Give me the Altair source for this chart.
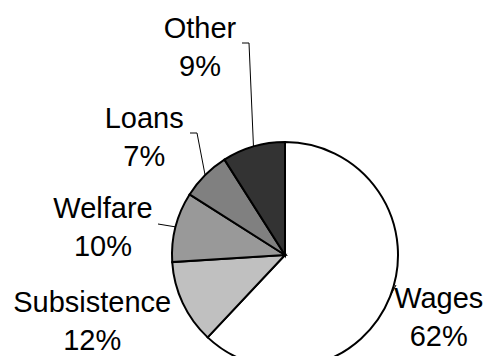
import math
import altair as alt
import pandas as pd

# ---- data ----
names = ["Wages", "Subsistence", "Welfare", "Loans", "Other"]
values = [62, 12, 10, 7, 9]

# ---- style / layout ----
colors = ["#ffffff", "#c0c0c0", "#999999", "#808080", "#333333"]
CX, CY, R = 277, 247, 113          # pie centre (chart coords) and radius
FONT_SIZE, LINE_H = 29, 38
label_radius = [166, 204, 184, 183, 224]
label_nudge_deg = [0.55, 6.1, -6.0, -5.3, -6.1]
# leader-line label-side points (chart coords), pie-edge end computed from the slice angle
leader_pts = {
    "Wages": [(388, 277)],
    "Welfare": [(150, 216)],
    "Loans": [(189, 125), (182, 125)],
    "Other": [(241, 35), (234, 35)],
}

total = sum(values)
rows, lab, lead = [], [], []
cum = 0
for i, (n, v) in enumerate(zip(names, values)):
    mid = (cum + v / 2) / total * 2 * math.pi
    cum += v
    rows.append({"name": n, "value": v, "idx": i})
    lab.append({
        "name": n,
        "label": f"{n}\n{v}%",
        "theta": mid + math.radians(label_nudge_deg[i]),
        "r": label_radius[i],
    })
    if n in leader_pts:
        ex = CX + R * math.sin(mid)
        ey = CY - R * math.cos(mid)
        pts = [(ex, ey)] + leader_pts[n]
        for k, (px, py) in enumerate(pts):
            lead.append({"name": n, "o": k, "x": px, "y": py})

df = pd.DataFrame(rows)
dl = pd.DataFrame(lab)
dlead = pd.DataFrame(lead)

pie = alt.Chart(df).mark_arc(outerRadius=R, stroke="black", strokeWidth=2).encode(
    theta=alt.Theta("value:Q", stack=True),
    color=alt.Color("name:N", scale=alt.Scale(domain=names, range=colors), legend=None),
    order=alt.Order("idx:Q"),
    x=alt.value(CX),
    y=alt.value(CY),
)

labels = alt.Chart(dl).mark_text(
    font="Liberation Sans", fontSize=FONT_SIZE, lineBreak="\n", lineHeight=LINE_H,
    align="center", baseline="middle", color="black", dy=-LINE_H / 2,
).encode(
    x=alt.value(CX),
    y=alt.value(CY),
    theta=alt.Theta("theta:Q", scale=None),
    radius=alt.Radius("r:Q", scale=None),
    text="label:N",
)

leaders = alt.Chart(dlead).mark_line(color="black", strokeWidth=1).encode(
    x=alt.X("x:Q", scale=None, axis=None),
    y=alt.Y("y:Q", scale=None, axis=None),
    detail="name:N",
    order="o:Q",
)

chart = alt.layer(pie, leaders, labels).properties(
    width=476, height=348, padding=0, autosize=alt.AutoSizeParams(type="none")
).configure_view(stroke=None)

chart.save("out.html", embed_options={"renderer": "svg", "actions": False})
